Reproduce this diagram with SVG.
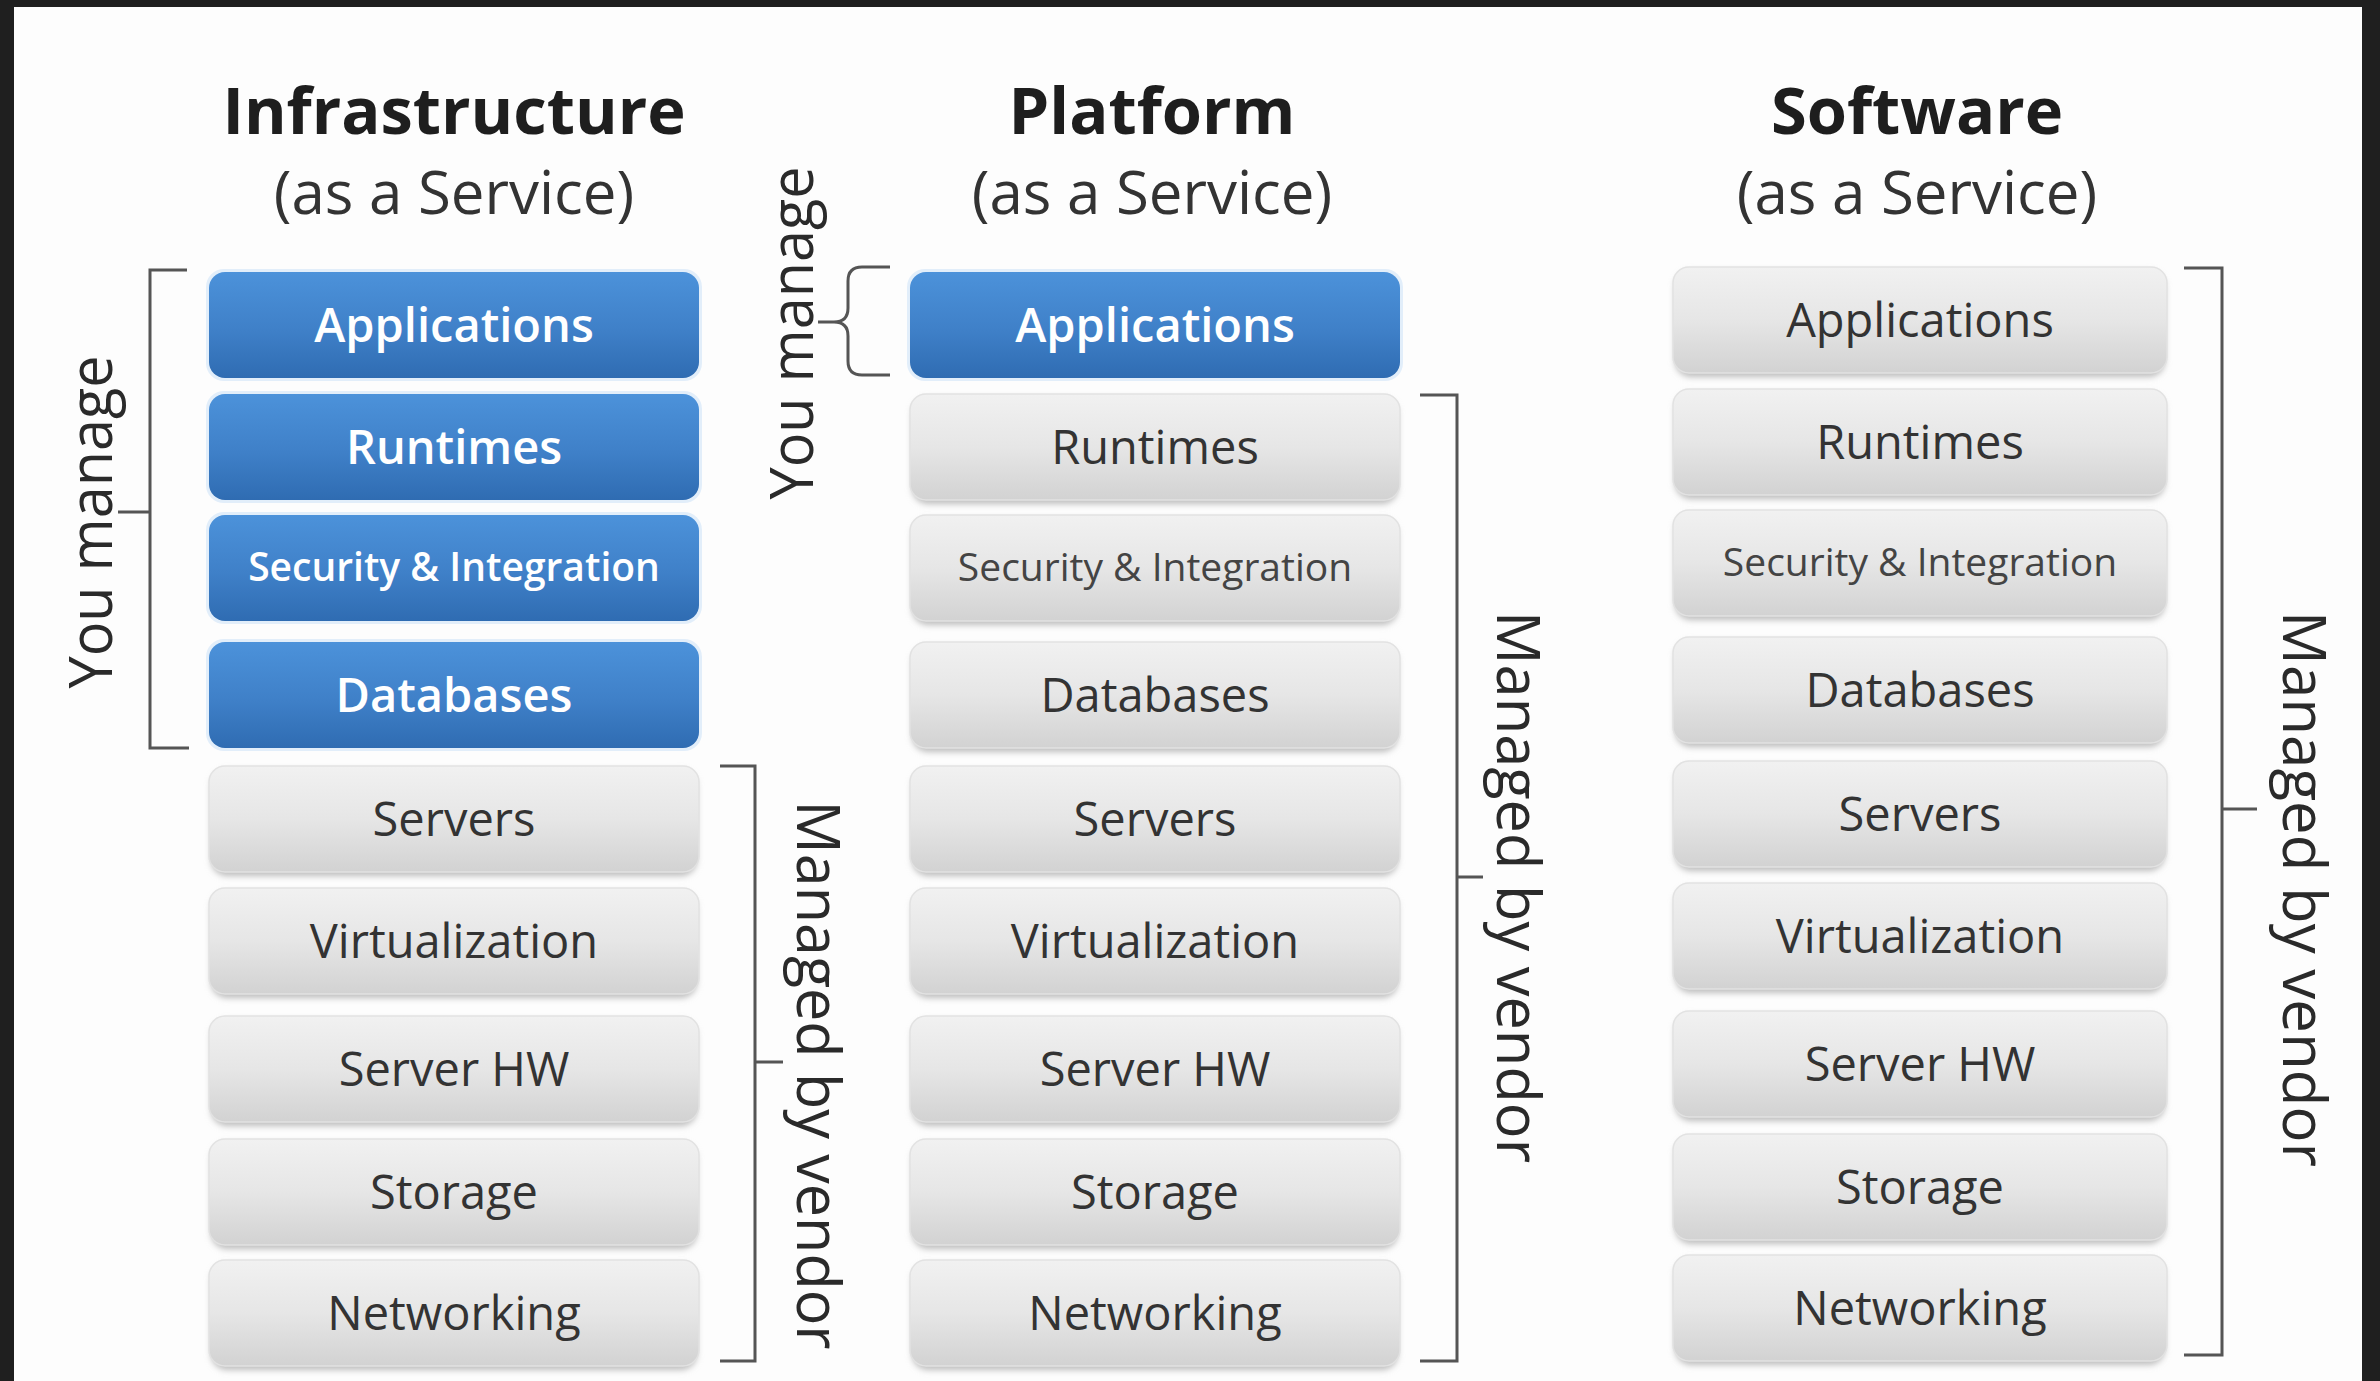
<svg xmlns="http://www.w3.org/2000/svg" width="2380" height="1381" viewBox="0 0 2380 1381">
<defs>
<linearGradient id="gBlue" x1="0" y1="0" x2="0" y2="1">
<stop offset="0" stop-color="#4c92da"/>
<stop offset="0.55" stop-color="#3f80c8"/>
<stop offset="1" stop-color="#2f6cb2"/>
</linearGradient>
<linearGradient id="gGray" x1="0" y1="0" x2="0" y2="1">
<stop offset="0" stop-color="#f1f1f1"/>
<stop offset="0.5" stop-color="#e6e6e6"/>
<stop offset="1" stop-color="#d2d2d2"/>
</linearGradient>
<filter id="sh" x="-5%" y="-10%" width="110%" height="130%">
<feGaussianBlur stdDeviation="3"/>
</filter>
<style>
.title{font-family:"Open Sans","Noto Sans",sans-serif;font-weight:700;font-size:65px;fill:#1e1e1e;text-anchor:middle}
.sub{font-family:"Open Sans","Noto Sans",sans-serif;font-weight:400;font-size:60px;fill:#333;text-anchor:middle}
.bl{font-family:"Open Sans","Noto Sans",sans-serif;font-weight:600;font-size:47px;fill:#ffffff;text-anchor:middle}
.gl{font-family:"Open Sans","Noto Sans",sans-serif;font-weight:400;font-size:47px;fill:#333;text-anchor:middle}
.bs{font-family:"Open Sans","Noto Sans",sans-serif;font-weight:600;font-size:39px;fill:#ffffff;text-anchor:middle}
.gs{font-family:"Open Sans","Noto Sans",sans-serif;font-weight:400;font-size:39px;fill:#444;text-anchor:middle}
.vt{font-family:"Open Sans","Noto Sans",sans-serif;font-weight:400;font-size:61px;fill:#2a2a2a;text-anchor:middle}
.blue{fill:url(#gBlue)}
.gray{fill:url(#gGray);stroke:#e2e2e2;stroke-width:1.5}
.glow{fill:#e2eefa}
.shadow{fill:#bdbdbd;filter:url(#sh)}
.br{fill:none;stroke:#555;stroke-width:3}
</style>
</defs>
<rect x="0" y="0" width="2380" height="1381" fill="#1f1f1f"/>
<rect x="14" y="7" width="2348" height="1374" fill="#fdfdfd"/>

<!-- Titles -->
<g id="title-iaas">
<text class="title" x="454" y="134">Infrastructure</text>
<text class="sub" x="454" y="214">(as a Service)</text>
</g>
<g id="title-paas">
<text class="title" x="1152" y="134">Platform</text>
<text class="sub" x="1152" y="214">(as a Service)</text>
</g>
<g id="title-saas">
<text class="title" x="1917" y="134">Software</text>
<text class="sub" x="1917" y="214">(as a Service)</text>
</g>

<!-- IaaS column -->
<g id="iaas-applications"><rect class="glow" x="206" y="269" width="496" height="112" rx="18"/><rect class="blue" x="209" y="272" width="490" height="106" rx="16"/><text class="bl" x="454" y="342">Applications</text></g>
<g id="iaas-runtimes"><rect class="glow" x="206" y="391" width="496" height="112" rx="18"/><rect class="blue" x="209" y="394" width="490" height="106" rx="16"/><text class="bl" x="454" y="464">Runtimes</text></g>
<g id="iaas-security"><rect class="glow" x="206" y="512" width="496" height="112" rx="18"/><rect class="blue" x="209" y="515" width="490" height="106" rx="16"/><text class="bs" x="454" y="581">Security &amp; Integration</text></g>
<g id="iaas-databases"><rect class="glow" x="206" y="639" width="496" height="112" rx="18"/><rect class="blue" x="209" y="642" width="490" height="106" rx="16"/><text class="bl" x="454" y="712">Databases</text></g>
<g id="iaas-servers"><rect class="shadow" x="211" y="770" width="486" height="106" rx="16"/><rect class="gray" x="209" y="766" width="490" height="106" rx="16"/><text class="gl" x="454" y="836">Servers</text></g>
<g id="iaas-virtualization"><rect class="shadow" x="211" y="892" width="486" height="106" rx="16"/><rect class="gray" x="209" y="888" width="490" height="106" rx="16"/><text class="gl" x="454" y="958">Virtualization</text></g>
<g id="iaas-serverhw"><rect class="shadow" x="211" y="1020" width="486" height="106" rx="16"/><rect class="gray" x="209" y="1016" width="490" height="106" rx="16"/><text class="gl" x="454" y="1086">Server HW</text></g>
<g id="iaas-storage"><rect class="shadow" x="211" y="1143" width="486" height="106" rx="16"/><rect class="gray" x="209" y="1139" width="490" height="106" rx="16"/><text class="gl" x="454" y="1209">Storage</text></g>
<g id="iaas-networking"><rect class="shadow" x="211" y="1264" width="486" height="106" rx="16"/><rect class="gray" x="209" y="1260" width="490" height="106" rx="16"/><text class="gl" x="454" y="1330">Networking</text></g>

<!-- PaaS column -->
<g id="paas-applications"><rect class="glow" x="907" y="269" width="496" height="112" rx="18"/><rect class="blue" x="910" y="272" width="490" height="106" rx="16"/><text class="bl" x="1155" y="342">Applications</text></g>
<g id="paas-runtimes"><rect class="shadow" x="912" y="398" width="486" height="106" rx="16"/><rect class="gray" x="910" y="394" width="490" height="106" rx="16"/><text class="gl" x="1155" y="464">Runtimes</text></g>
<g id="paas-security"><rect class="shadow" x="912" y="519" width="486" height="106" rx="16"/><rect class="gray" x="910" y="515" width="490" height="106" rx="16"/><text class="gs" x="1155" y="581">Security &amp; Integration</text></g>
<g id="paas-databases"><rect class="shadow" x="912" y="646" width="486" height="106" rx="16"/><rect class="gray" x="910" y="642" width="490" height="106" rx="16"/><text class="gl" x="1155" y="712">Databases</text></g>
<g id="paas-servers"><rect class="shadow" x="912" y="770" width="486" height="106" rx="16"/><rect class="gray" x="910" y="766" width="490" height="106" rx="16"/><text class="gl" x="1155" y="836">Servers</text></g>
<g id="paas-virtualization"><rect class="shadow" x="912" y="892" width="486" height="106" rx="16"/><rect class="gray" x="910" y="888" width="490" height="106" rx="16"/><text class="gl" x="1155" y="958">Virtualization</text></g>
<g id="paas-serverhw"><rect class="shadow" x="912" y="1020" width="486" height="106" rx="16"/><rect class="gray" x="910" y="1016" width="490" height="106" rx="16"/><text class="gl" x="1155" y="1086">Server HW</text></g>
<g id="paas-storage"><rect class="shadow" x="912" y="1143" width="486" height="106" rx="16"/><rect class="gray" x="910" y="1139" width="490" height="106" rx="16"/><text class="gl" x="1155" y="1209">Storage</text></g>
<g id="paas-networking"><rect class="shadow" x="912" y="1264" width="486" height="106" rx="16"/><rect class="gray" x="910" y="1260" width="490" height="106" rx="16"/><text class="gl" x="1155" y="1330">Networking</text></g>

<!-- SaaS column -->
<g id="saas-applications"><rect class="shadow" x="1675" y="271" width="490" height="106" rx="16"/><rect class="gray" x="1673" y="267" width="494" height="106" rx="16"/><text class="gl" x="1920" y="337">Applications</text></g>
<g id="saas-runtimes"><rect class="shadow" x="1675" y="393" width="490" height="106" rx="16"/><rect class="gray" x="1673" y="389" width="494" height="106" rx="16"/><text class="gl" x="1920" y="459">Runtimes</text></g>
<g id="saas-security"><rect class="shadow" x="1675" y="514" width="490" height="106" rx="16"/><rect class="gray" x="1673" y="510" width="494" height="106" rx="16"/><text class="gs" x="1920" y="576">Security &amp; Integration</text></g>
<g id="saas-databases"><rect class="shadow" x="1675" y="641" width="490" height="106" rx="16"/><rect class="gray" x="1673" y="637" width="494" height="106" rx="16"/><text class="gl" x="1920" y="707">Databases</text></g>
<g id="saas-servers"><rect class="shadow" x="1675" y="765" width="490" height="106" rx="16"/><rect class="gray" x="1673" y="761" width="494" height="106" rx="16"/><text class="gl" x="1920" y="831">Servers</text></g>
<g id="saas-virtualization"><rect class="shadow" x="1675" y="887" width="490" height="106" rx="16"/><rect class="gray" x="1673" y="883" width="494" height="106" rx="16"/><text class="gl" x="1920" y="953">Virtualization</text></g>
<g id="saas-serverhw"><rect class="shadow" x="1675" y="1015" width="490" height="106" rx="16"/><rect class="gray" x="1673" y="1011" width="494" height="106" rx="16"/><text class="gl" x="1920" y="1081">Server HW</text></g>
<g id="saas-storage"><rect class="shadow" x="1675" y="1138" width="490" height="106" rx="16"/><rect class="gray" x="1673" y="1134" width="494" height="106" rx="16"/><text class="gl" x="1920" y="1204">Storage</text></g>
<g id="saas-networking"><rect class="shadow" x="1675" y="1259" width="490" height="106" rx="16"/><rect class="gray" x="1673" y="1255" width="494" height="106" rx="16"/><text class="gl" x="1920" y="1325">Networking</text></g>

<!-- Brackets -->
<g id="connectors">
<path class="br" d="M187,270 H150 V748 H189 M150,512 H118"/>
<path class="br" d="M890,267 H862 Q848,267 848,281 V308 Q848,322 834,322 H818 M834,322 Q848,322 848,336 V361 Q848,375 862,375 H890"/>
<path class="br" d="M720,766 H755 V1361 H720 M755,1062 H783"/>
<path class="br" d="M1420,395 H1457 V1361 H1420 M1457,877 H1483"/>
<path class="br" d="M2184,268 H2222 V1355 H2184 M2222,809 H2257"/>
</g>

<!-- Bracket labels -->
<g id="label-iaas-you"><text class="vt" transform="translate(112,522) rotate(-90)" textLength="333" lengthAdjust="spacingAndGlyphs">You manage</text></g>
<g id="label-paas-you"><text class="vt" transform="translate(813,333) rotate(-90)" textLength="333" lengthAdjust="spacingAndGlyphs">You manage</text></g>
<g id="label-iaas-vendor"><text class="vt" transform="translate(797,1075) rotate(90)" textLength="549" lengthAdjust="spacingAndGlyphs">Managed by vendor</text></g>
<g id="label-paas-vendor"><text class="vt" transform="translate(1497,887) rotate(90)" textLength="552" lengthAdjust="spacingAndGlyphs">Managed by vendor</text></g>
<g id="label-saas-vendor"><text class="vt" transform="translate(2283,889) rotate(90)" textLength="556" lengthAdjust="spacingAndGlyphs">Managed by vendor</text></g>
</svg>
